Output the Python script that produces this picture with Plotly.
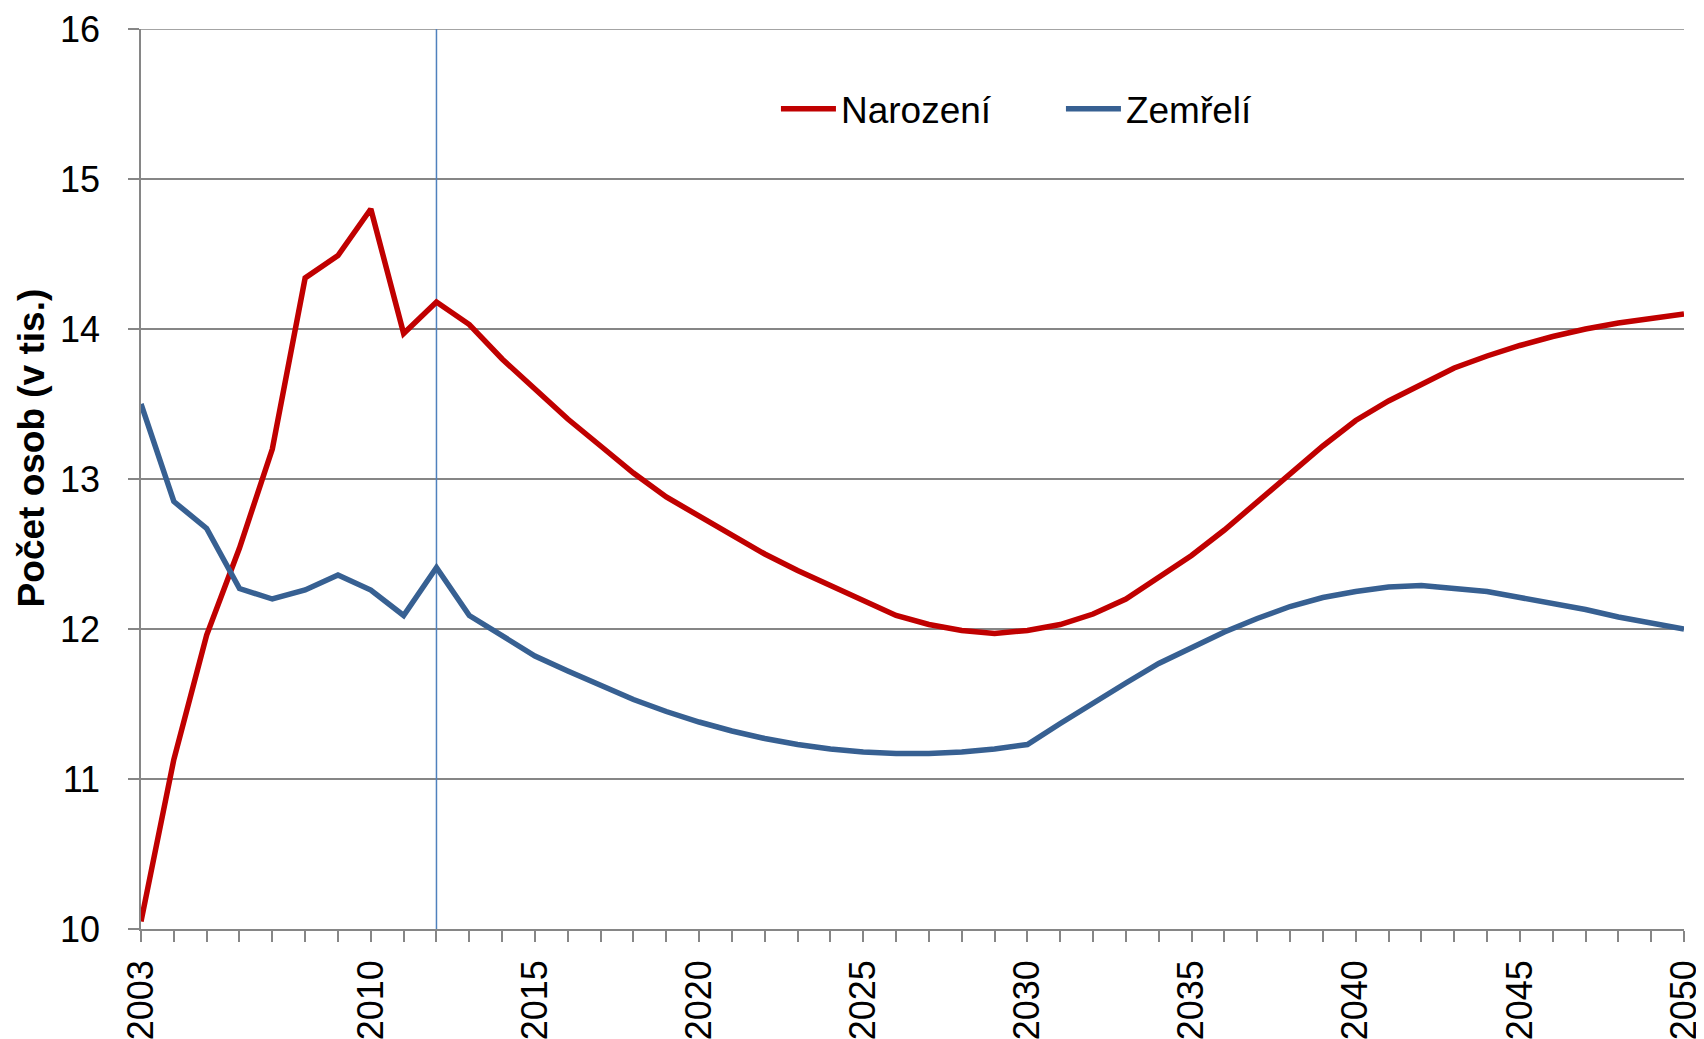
import plotly.graph_objects as go

years = list(range(2003, 2051))

narozeni = [
    10.05, 11.13, 11.96, 12.54, 13.20, 14.34, 14.49, 14.80, 13.97, 14.18,
    14.03, 13.80, 13.60, 13.40, 13.22, 13.04, 12.88, 12.75, 12.62, 12.50,
    12.39, 12.29, 12.19, 12.09, 12.03, 11.99, 11.97, 11.99, 12.03, 12.10,
    12.20, 12.34, 12.49, 12.66, 12.85, 13.04, 13.22, 13.39, 13.52, 13.63,
    13.74, 13.82, 13.89, 13.95, 14.00, 14.04, 14.07, 14.10,
]

zemreli = [
    13.50, 12.85, 12.67, 12.27, 12.20, 12.26, 12.36, 12.26, 12.09, 12.41,
    12.09, 11.95, 11.82, 11.72, 11.62, 11.53, 11.45, 11.38, 11.32, 11.27,
    11.23, 11.20, 11.18, 11.17, 11.17, 11.18, 11.20, 11.23, 11.37, 11.51,
    11.64, 11.77, 11.88, 11.98, 12.07, 12.15, 12.21, 12.25, 12.28, 12.29,
    12.27, 12.25, 12.21, 12.17, 12.13, 12.08, 12.04, 12.00,
]

x_ticks = [2003, 2010, 2015, 2020, 2025, 2030, 2035, 2040, 2045, 2050]
projection_start = 2012
y_range = [10, 16]

FONT = "Arial, Liberation Sans, sans-serif"
GRID = "#868686"

fig = go.Figure()
fig.add_trace(
    go.Scatter(
        x=[projection_start, projection_start],
        y=y_range,
        mode="lines",
        line=dict(color="#4f81bd", width=1.5),
        showlegend=False,
        hoverinfo="skip",
    )
)
fig.add_trace(
    go.Scatter(
        x=years,
        y=narozeni,
        mode="lines",
        name="Narození",
        line=dict(color="#c00000", width=5.5),
    )
)
fig.add_trace(
    go.Scatter(
        x=years,
        y=zemreli,
        mode="lines",
        name="Zemřelí",
        line=dict(color="#376092", width=5.5),
    )
)

# top gridline (plotly drops the one on the plot edge)
fig.add_shape(
    type="line", xref="paper", x0=0, x1=1, yref="y", y0=y_range[1], y1=y_range[1],
    line=dict(color=GRID, width=1.5), layer="below",
)

# y-axis title sits a bit above the plot centre, like the original
fig.add_annotation(
    text="<b>Počet osob (v tis.)</b>",
    xref="paper", yref="paper", x=0, y=0.534,
    xanchor="center", yanchor="middle", xshift=-110,
    textangle=-90, showarrow=False,
    font=dict(size=37),
)

# page body adds 8px, so the figure is 8px smaller than the window
fig.update_layout(
    width=1696,
    height=1031,
    margin=dict(l=133, r=20, t=21, b=110),
    plot_bgcolor="white",
    paper_bgcolor="white",
    font=dict(family=FONT, size=36, color="black"),
    legend=dict(
        orientation="h",
        x=0.4115,
        y=0.911,
        xanchor="left",
        yanchor="middle",
        font=dict(size=37),
        itemwidth=55,
        entrywidth=215,
        bgcolor="rgba(0,0,0,0)",
    ),
    xaxis=dict(
        range=[2003, 2050],
        tickvals=x_ticks,
        ticktext=[str(v) for v in x_ticks],
        tickangle=-90,
        ticks="outside",
        ticklen=11,
        tickcolor=GRID,
        tickwidth=1.5,
        minor=dict(dtick=1, tick0=2003, ticks="outside", ticklen=11, tickcolor=GRID, tickwidth=1.5),
        showline=True,
        linecolor=GRID,
        linewidth=1.5,
        showgrid=False,
        zeroline=False,
        automargin=False,
        ticklabelstandoff=4,
    ),
    yaxis=dict(
        range=y_range,
        dtick=1,
        ticks="outside",
        ticklen=11,
        tickcolor=GRID,
        tickwidth=1.5,
        showline=True,
        linecolor=GRID,
        linewidth=1.5,
        showgrid=True,
        gridcolor=GRID,
        gridwidth=1.5,
        zeroline=False,
        automargin=False,
        ticklabelstandoff=21,
    ),
)

fig.write_html("out.html")
